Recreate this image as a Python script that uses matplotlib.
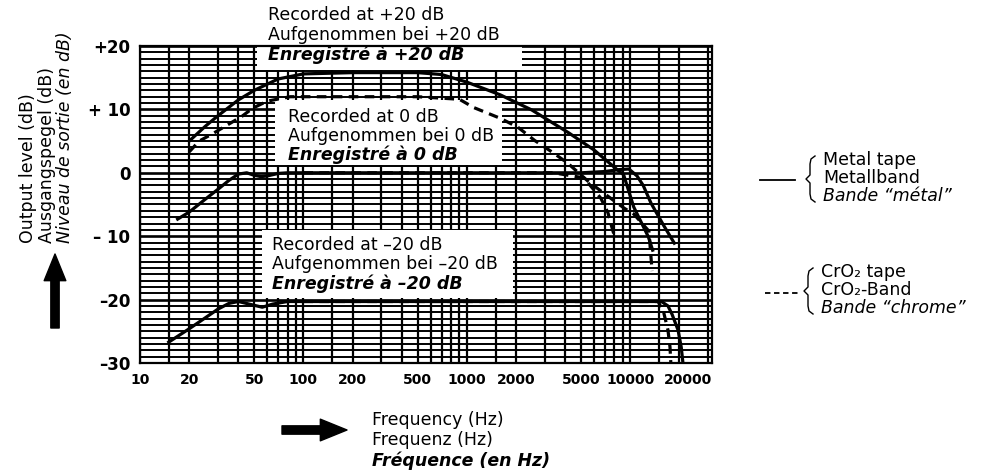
import numpy as np
import matplotlib.pyplot as plt
import matplotlib.transforms as mtransforms
from matplotlib.patches import Rectangle
from matplotlib.lines import Line2D

# Metal tape (solid)
metal_p20_f = [20, 25, 30, 40, 50, 70, 100, 200, 500, 700, 1000, 1600, 2500, 4200, 6000, 8400, 9100, 10500, 12900, 13700]
metal_p20_db = [5, 7.3, 9, 11.5, 13, 14.8, 15.6, 15.8, 15.8, 15.5, 14.3, 12.3, 9.9, 6.3, 3.6, 0.4, -0.3, -5.4, -10.1, -12.2]
metal_0_f = [17, 20, 25, 30, 35, 40, 45, 50, 55, 60, 70, 80, 100, 1000, 5000, 7000, 8500, 9800, 11000, 12000, 13400, 16000, 18600]
metal_0_db = [-7.3, -6.2, -4.2, -2.6, -1.2, -0.2, 0, -0.4, -0.6, -0.5, -0.1, 0, 0, 0, 0, 0.2, 0.5, 0.6, -0.5, -2.0, -4.8, -8.3, -11.1]
metal_m20_f = [15, 20, 25, 30, 35, 40, 50, 56, 65, 80, 100, 1000, 10000, 15500, 17000, 18000, 19600, 20500, 21000]
metal_m20_db = [-26.7, -24.6, -22.9, -21.5, -20.6, -20.3, -20.9, -21.2, -20.7, -20.3, -20.3, -20.3, -20.3, -20.3, -21.0, -22.3, -24.8, -27.5, -30]

# CrO2 tape (dashed)
cro2_p20_f = [20, 23, 28, 34, 42, 49, 60, 83, 100, 500, 900, 1100, 1600, 2050, 2600, 3400, 4150, 5500, 6950, 9200, 10500, 13000, 13600]
cro2_p20_db = [3.3, 5, 6.2, 7.5, 8.9, 10.2, 11.3, 12, 12, 12, 11.6, 10.3, 8.6, 7.2, 5.1, 3.1, 1.5, -1.3, -3.3, -5.6, -6.5, -9.2, -15.5]
cro2_0_f = [100, 1000, 3400, 5200, 6600, 7300, 7700, 8000]
cro2_0_db = [0, 0, 0, -0.8, -4, -6.3, -8.5, -10]
cro2_m20_f = [100, 1000, 14800, 16000, 17000, 17500, 17700]
cro2_m20_db = [-20.3, -20.3, -20.3, -22, -24.8, -27.5, -30]

x_ticks = [10, 20, 50, 100, 200, 500, 1000, 2000, 5000, 10000, 20000]
y_ticks = [20, 10, 0, -10, -20, -30]
y_labels = ['+20', '+ 10', '0', '\u2013 10', '\u201320', '\u201330']

W, H = 982, 474
fig = plt.figure(figsize=(W / 100, H / 100), dpi=100)
ax = fig.add_axes([140 / W, 1 - 363 / H, (712 - 140) / W, (363 - 46) / H])

def px(x, y):
    return x / W, 1 - y / H

ax.set_xscale('log')
ax.set_xlim(10, 31623)
ax.set_ylim(-30, 20)

# grid: 1 dB horizontals, 1/1.5/2..9 verticals per decade
for v in np.arange(-30, 21, 1):
    ax.axhline(v, color='k', lw=1.9 if v % 10 == 0 else 1.4, zorder=0.5)
for dec in [10, 100, 1000, 10000]:
    for m in [1, 1.5, 2, 3, 4, 5, 6, 7, 8, 9]:
        f = dec * m
        if f < 31623:
            ax.axvline(f, color='k', lw=1.6, zorder=0.5)

ax.set_xticks(x_ticks)
ax.set_xticklabels([str(t) for t in x_ticks], fontsize=10, fontweight='bold')
ax.xaxis.set_minor_locator(plt.NullLocator())
ax.set_yticks(y_ticks)
ax.set_yticklabels(y_labels, fontsize=12, fontweight='bold')
ax.tick_params(length=0, pad=7)
# the printed 20000 label sits a little right of its grid line
lab = ax.get_xticklabels()[-1]
lab.set_transform(lab.get_transform() + mtransforms.ScaledTranslation(9 / 100, 0, fig.dpi_scale_trans))
for s in ax.spines.values():
    s.set_linewidth(1.6)

# white label boxes covering the grid
boxes = [(257, 0, 522, 70), (275, 100, 502, 165), (262, 230, 513, 298)]
for x0, y0, x1, y1 in boxes:
    bx, by = px(x0, y1)
    ax.add_patch(Rectangle((bx, by), (x1 - x0) / W, (y1 - y0) / H, transform=fig.transFigure,
                           facecolor='white', edgecolor='none', zorder=1, clip_on=False))

lw = 2.3
dash = (0, (3, 2))
ax.plot(metal_p20_f, metal_p20_db, color='k', lw=lw, zorder=3)
ax.plot(metal_0_f, metal_0_db, color='k', lw=lw, zorder=3)
ax.plot(metal_m20_f, metal_m20_db, color='k', lw=lw, zorder=3)
ax.plot(cro2_p20_f, cro2_p20_db, color='k', lw=lw, ls=dash, zorder=3)
ax.plot(cro2_0_f, cro2_0_db, color='k', lw=lw, ls=dash, zorder=3)
ax.plot(cro2_m20_f, cro2_m20_db, color='k', lw=lw, ls=dash, zorder=3)

FS = 12.5
def label3(x, ys, lines):
    for i, (y, s) in enumerate(zip(ys, lines)):
        kw = dict(style='italic', fontweight='bold') if i == 2 else {}
        fig.text(*px(x, y), s, fontsize=FS, va='center', ha='left', zorder=5, **kw)

label3(268, [15, 35, 55], ['Recorded at +20 dB', 'Aufgenommen bei +20 dB', 'Enregistré à +20 dB'])
label3(288, [117, 136, 155], ['Recorded at 0 dB', 'Aufgenommen bei 0 dB', 'Enregistré à 0 dB'])
label3(272, [245, 264, 284], ['Recorded at \u201320 dB', 'Aufgenommen bei \u201320 dB', 'Enregistré à \u201320 dB'])
label3(372, [420, 440, 461], ['Frequency (Hz)', 'Frequenz (Hz)', 'Fréquence (en Hz)'])

# y axis title
for i, (x, s) in enumerate(zip([28, 47, 65], ['Output level (dB)', 'Ausgangspegel (dB)', 'Niveau de sortie (en dB)'])):
    kw = dict(style='italic') if i == 2 else {}
    fig.text(*px(x, 243), s, fontsize=FS, rotation=90, rotation_mode='anchor', ha='left', va='center', **kw)

# arrows
arrow = dict(arrowstyle='simple,head_length=1.6,head_width=1.3,tail_width=0.5', mutation_scale=12,
             color='k', shrinkA=0, shrinkB=0)
fig.add_artist(plt.Annotation('', xy=px(55, 254), xytext=px(55, 328), xycoords='figure fraction',
                              arrowprops=arrow))
fig.add_artist(plt.Annotation('', xy=px(347, 430), xytext=px(282, 430), xycoords='figure fraction',
                              arrowprops=arrow))

# legend
def brace(x, yt, yb):
    ym = (yt + yb) / 2
    pts = [(x + 5, yt), (x + 1, yt + 3), (x, yt + 8), (x, ym - 4), (x - 4, ym), (x, ym + 4), (x, yb - 8), (x + 1, yb - 3), (x + 5, yb)]
    xs, ys = zip(*[px(a, b) for a, b in pts])
    fig.add_artist(Line2D(xs, ys, color='k', lw=1.0))

fig.add_artist(Line2D([px(760, 0)[0], px(795, 0)[0]], [px(0, 180)[1]] * 2, color='k', lw=1.3))
brace(810, 156, 202)
for i, (y, s) in enumerate(zip([160, 178, 196], ['Metal tape', 'Metallband', 'Bande \u201cmétal\u201d'])):
    kw = dict(style='italic') if i == 2 else {}
    fig.text(*px(823, y), s, fontsize=FS, va='center', ha='left', **kw)

fig.add_artist(Line2D([px(765, 0)[0], px(801, 0)[0]], [px(0, 293)[1]] * 2, color='k', lw=1.3, ls=(0, (3, 2))))
brace(808, 268, 314)
for i, (y, s) in enumerate(zip([272, 290, 308], ['CrO\u2082 tape', 'CrO\u2082-Band', 'Bande \u201cchrome\u201d'])):
    kw = dict(style='italic') if i == 2 else {}
    fig.text(*px(821, y), s, fontsize=FS, va='center', ha='left', **kw)

fig.savefig('out.png', dpi=100)
